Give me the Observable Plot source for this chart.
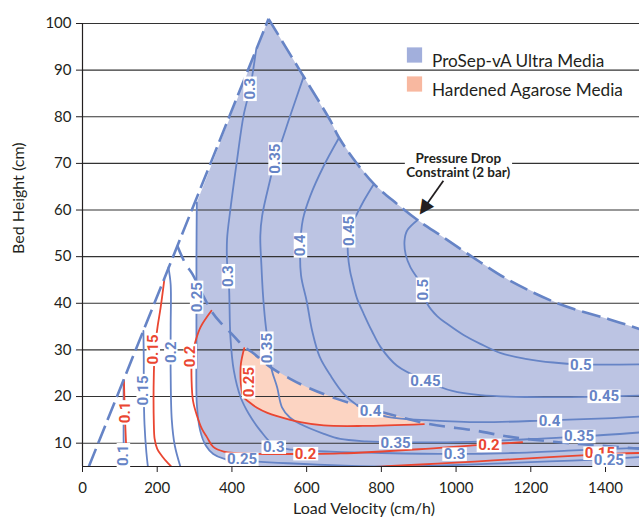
<!DOCTYPE html>
<html><head><meta charset="utf-8">
<script src="https://cdn.jsdelivr.net/npm/d3@7"></script>
<script src="https://cdn.jsdelivr.net/npm/@observablehq/plot@0.6"></script>
<style>body{margin:0;background:#fff;} svg{display:block}</style>
</head><body><div id="chart"></div>
<script>
// ---- axes ----
const xTicks = [0, 200, 400, 600, 800, 1000, 1200, 1400];
const yTicks = [10, 20, 30, 40, 50, 60, 70, 80, 90, 100];
const xTitle = "Load Velocity (cm/h)";
const yTitle = "Bed Height (cm)";
const legendItems = ["ProSep-vA Ultra Media", "Hardened Agarose Media"];

// ---- constraint lines (load velocity, bed height) ----
const residenceLine = [[17, 5], [498, 101]];
const pressureLine = [[498, 101], [583, 89.8], [664, 79.1], [686, 75.6], [726, 70.9], [780, 65.6], [842, 61.3], [896, 57.9], [967, 54.1], [1065, 48.8], [1141, 45], [1275, 39.9], [1409, 36.6], [1491, 34.5]];
const agaroseLine = [[254, 52.3], [276, 48.4], [294, 46.3], [325, 41.3], [347, 38.1], [369, 35.9], [400, 33.4], [433, 30.6], [454, 29.5], [503, 26.3], [556, 23.8], [601, 22], [681, 19.5], [800, 16.7], [923, 14.2], [1052, 12.7], [1141, 11.4], [1275, 10.2], [1380, 9.5], [1491, 8.8]];

// ---- operating regions ----
const prosepRegion = [[306, 61.6], [498, 101], [583, 89.8], [664, 79.1], [686, 75.6], [726, 70.9], [780, 65.6], [842, 61.3], [896, 57.9], [967, 54.1], [1065, 48.8], [1141, 45], [1275, 39.9], [1409, 36.6], [1491, 34.5], [1491, 5], [398, 5], [378, 6.6], [350, 7.7], [330, 9.5], [315, 12.7], [306, 18.4], [305, 30], [305, 40], [305, 50], [306, 61.6]];
const agaroseRegion = [[433, 30.4], [424, 27], [423, 24], [425, 22], [431, 19.9], [445, 18.9], [467, 17.6], [495, 16.5], [521, 15.8], [583, 14.5], [646, 13.8], [750, 13.7], [914, 14.1], [914, 14.4], [800, 16.7], [681, 19.5], [601, 22], [556, 23.8], [503, 26.3], [454, 29.5], [433, 30.6]];

// ---- ProSep-vA productivity contours ----
const blue010 = [[110, 23.3], [110, 17], [110, 11], [111, 7], [112, 5]];
const blue015 = [[163, 34.1], [164, 28], [164, 21.3], [166, 14], [171, 8], [175, 5]];
const blue020 = [[230, 47.7], [236, 44], [236, 35], [236, 25], [239, 15], [247, 9.5], [262, 5]];
const blue025 = [[306, 61.6], [305, 50], [305, 40], [305, 30], [306, 18.4], [315, 12.7], [330, 9.5], [350, 7.7], [378, 6.7], [427, 6.3], [550, 5.7], [700, 5.2], [850, 5.0], [950, 5.2], [1100, 5.6], [1250, 6.1], [1409, 6.6], [1491, 7.0]];
const blue030 = [[465, 94.5], [449, 86.3], [431, 80.2], [414, 70.9], [396, 60.2], [387, 53.8], [387, 48.8], [392, 44], [396, 32.7], [405, 25.6], [423, 19.9], [445, 16.3], [476, 12.7], [512, 9.6], [560, 8.6], [664, 8.2], [800, 7.9], [994, 7.7], [1150, 7.9], [1300, 8.4], [1491, 9.0]];
const blue035 = [[592, 88.6], [556, 80.2], [530, 74], [516, 70.9], [503, 66.7], [481, 58.8], [476, 54.5], [479, 48], [483, 42], [489, 36.3], [498, 30.6], [507, 25.6], [521, 22], [534, 17.7], [555, 15.5], [583, 14.1], [646, 12], [690, 10.9], [760, 10.4], [838, 10.2], [1040, 10.3], [1200, 10.9], [1329, 11.4], [1491, 12.3]];
const blue040 = [[686, 75.4], [646, 69.5], [610, 63.1], [590, 58], [583, 52.4], [585, 46], [600, 40.5], [615, 34], [635, 28.5], [664, 24.5], [700, 20.5], [736, 18.1], [771, 16.8], [820, 15.6], [931, 14.9], [1065, 14.5], [1250, 14.9], [1400, 15.3], [1491, 15.7]];
const blue045 = [[780, 65.6], [753, 62], [735, 59.2], [713, 55.6], [710, 51.3], [716, 47], [722, 44.9], [735, 41], [753, 37.7], [775, 34], [798, 30.6], [842, 26.6], [918, 23.4], [990, 21.2], [1065, 20.3], [1186, 19.9], [1396, 20], [1491, 20.2]];
const blue050 = [[898, 57.9], [869, 55.6], [862, 53.4], [865, 50.5], [878, 47.7], [911, 43.5], [923, 39.9], [950, 37.2], [976, 35.6], [1020, 33.2], [1065, 31.3], [1120, 29.3], [1186, 28.1], [1260, 27.3], [1334, 26.9], [1491, 26.9]];

// ---- Hardened agarose productivity contours ----
const red010 = [[111, 23.5], [113, 17], [116, 11], [119, 7], [123, 5]];
const red015 = [[219, 45], [209, 39], [201, 35], [194, 30.2], [191, 25], [191, 14], [193, 11], [200, 8.8], [213, 7.2], [230, 5.6], [240, 4.8]];
const red015b = [[780, 4.9], [815, 5.1], [950, 5.6], [1100, 6.3], [1250, 7.0], [1387, 7.6], [1491, 7.9]];
const red020 = [[345, 38.4], [316, 34.9], [303, 32], [293, 28.4], [292, 23.4], [296, 19], [306, 16], [320, 13], [333, 11.3], [350, 9.2], [378, 8.2], [467, 7.7], [592, 7.7], [690, 7.8], [900, 8.7], [1057, 9.6], [1177, 10.2]];
const red025 = [[433, 30.4], [424, 27], [423, 24], [425, 22], [431, 19.9], [445, 18.9], [467, 17.6], [495, 16.5], [521, 15.8], [583, 14.5], [646, 13.8], [750, 13.7], [914, 14.1]];

// ---- contour labels [x, y, text] ----
const blueLabelsV = [[449, 86, "0.3"], [516, 71, "0.35"], [584, 52.4, "0.4"], [713, 55.5, "0.45"], [911, 42.9, "0.5"], [391, 45.8, "0.3"], [306, 41.3, "0.25"], [494, 30.4, "0.35"], [237, 29.5, "0.2"], [163, 21.3, "0.15"], [110, 7.4, "0.1"]];
const redLabelsV = [[114, 16.6, "0.1"], [190, 30.1, "0.15"], [289, 28.6, "0.2"], [445, 23.1, "0.25"]];
const redLabelsH = [[597, 7.7, "0.2"], [1088, 9.5, "0.2"], [1385, 7.8, "0.15"]];
const blueLabelsH = [[427, 6.5, "0.25"], [512, 9.1, "0.3"], [771, 16.9, "0.4"], [918, 23.4, "0.45"], [838, 10.1, "0.35"], [996, 7.6, "0.3"], [1334, 26.8, "0.5"], [1396, 20, "0.45"], [1250, 14.8, "0.4"], [1329, 11.4, "0.35"], [1409, 6.3, "0.25"]];

// ---- annotation ----
const annotation = [{x: 1006, y: 69.6, text: "Pressure Drop\nConstraint (2 bar)"}];
const annotationArrow = [{x1: 966, y1: 66.3, x2: 914, y2: 60.4}];
const arrowHead = [{x: 912, y: 60.1}];

const BLUE_LINE = "#6684c6", RED_LINE = "#ea4631", BLUE_FILL = "#bcc4e3", PEACH = "#fcd4c2";
const LEG_BLUE = "#a2afdc", LEG_PEACH = "#f8b8a0";
const X = d => d[0], Y = d => d[1], T = d => d[2];

const contour = (data, stroke) => Plot.line(data, {x: X, y: Y, stroke, strokeWidth: 1.8, curve: "catmull-rom", clip: true});
const labelFont = {fontFamily: "Roboto, sans-serif", fontWeight: 700, fontSize: 15};

const chart = Plot.plot({
  width: 639, height: 523,
  marginLeft: 82, marginRight: 0, marginTop: 23, marginBottom: 57,
  x: {domain: [0, 1491], ticks: xTicks, tickFormat: d => String(d), tickSize: 6, tickPadding: 10, label: null},
  y: {domain: [5, 100], ticks: yTicks, tickFormat: d => String(d), tickSize: 6, tickPadding: 5, label: null},
  style: {fontFamily: "Lato, sans-serif", fontSize: "15px", color: "#231f20", background: "white", overflow: "visible"},
  marks: [
    Plot.line(prosepRegion, {x: X, y: Y, fill: BLUE_FILL, stroke: "none", curve: "linear"}),
    Plot.line(agaroseRegion, {x: X, y: Y, fill: PEACH, stroke: "none", curve: "linear"}),
    Plot.ruleY(yTicks, {stroke: "#333", strokeWidth: 1.1}),
    contour(blue010, BLUE_LINE), contour(blue015, BLUE_LINE), contour(blue020, BLUE_LINE),
    contour(blue025, BLUE_LINE), contour(blue030, BLUE_LINE), contour(blue035, BLUE_LINE),
    contour(blue040, BLUE_LINE), contour(blue045, BLUE_LINE), contour(blue050, BLUE_LINE),
    contour(red010, RED_LINE), contour(red015, RED_LINE), contour(red015b, RED_LINE),
    contour(red020, RED_LINE), contour(red025, RED_LINE),
    Plot.line(residenceLine, {x: X, y: Y, stroke: BLUE_LINE, strokeWidth: 2.6, strokeDasharray: "19,6", strokeLinecap: "butt"}),
    Plot.line(pressureLine, {x: X, y: Y, stroke: BLUE_LINE, strokeWidth: 2.6, strokeDasharray: "19,7", strokeLinecap: "butt", curve: "catmull-rom"}),
    Plot.line(agaroseLine, {x: X, y: Y, stroke: BLUE_LINE, strokeWidth: 2.6, strokeDasharray: "16,9", strokeLinecap: "butt", curve: "catmull-rom", clip: true}),
    Plot.ruleY([5], {stroke: "#231f20", strokeWidth: 1.2}),
    Plot.ruleX([0], {y1: 5, y2: 100, stroke: "#231f20", strokeWidth: 1.2}),
    // contour labels
    Plot.text(blueLabelsV, {x: X, y: Y, text: T, rotate: -90, fill: BLUE_LINE, ...labelFont, ariaDescription: "boxed"}),
    Plot.text(redLabelsV, {x: X, y: Y, text: T, rotate: -90, fill: RED_LINE, ...labelFont, ariaDescription: "boxed"}),
    Plot.text(redLabelsH, {x: X, y: Y, text: T, fill: RED_LINE, ...labelFont, ariaDescription: "boxed"}),
    Plot.text(blueLabelsH, {x: X, y: Y, text: T, fill: BLUE_LINE, ...labelFont, ariaDescription: "boxed"}),
    // annotation
    Plot.text(annotation, {x: "x", y: "y", text: "text", fontWeight: 700, fontSize: 13.5, lineHeight: 1.08, fill: "#231f20", ariaDescription: "boxedfull"}),
    Plot.link(annotationArrow, {x1: "x1", y1: "y1", x2: "x2", y2: "y2", stroke: "#231f20", strokeWidth: 1.8}),
    Plot.text(arrowHead, {x: "x", y: "y", text: () => "\u25B2", rotate: 215, fontSize: 19, fill: "#231f20", fontFamily: "DejaVu Sans"}),
    // legend
    Plot.dot([legendItems[0]], {frameAnchor: "top-left", dx: 332, dy: 31.5, symbol: "square", r: 8.6, fill: LEG_BLUE, stroke: "none"}),
    Plot.dot([legendItems[1]], {frameAnchor: "top-left", dx: 332, dy: 60.5, symbol: "square", r: 8.6, fill: LEG_PEACH, stroke: "none"}),
    Plot.text([legendItems[0]], {frameAnchor: "top-left", dx: 349.5, dy: 30.8, text: d => d, textAnchor: "start", fontSize: 17.2, fill: "#231f20"}),
    Plot.text([legendItems[1]], {frameAnchor: "top-left", dx: 349.5, dy: 60, text: d => d, textAnchor: "start", fontSize: 17.2, fill: "#231f20"}),
    // axis titles
    Plot.text([xTitle], {frameAnchor: "bottom", dx: 3, dy: 47, text: d => d, fontSize: 16, fill: "#231f20"}),
    Plot.text([yTitle], {frameAnchor: "left", dx: -64, dy: 9, rotate: -90, text: d => d, fontSize: 16, fill: "#231f20"})
  ]
});

document.getElementById("chart").append(chart);

// white boxes behind contour labels and the annotation
const NS = "http://www.w3.org/2000/svg";
function boxText(desc, tight) {
  chart.querySelectorAll("g").forEach(g => {
    if (g.getAttribute("aria-description") !== desc) return;
    g.querySelectorAll("text").forEach(t => {
      const b = t.getBBox();
      const fs = parseFloat(getComputedStyle(t).fontSize) || 15;
      const r = document.createElementNS(NS, "rect");
      let y = b.y, h = b.height;
      if (tight) { h = fs * 0.9; y = b.y + b.height / 2 - h / 2; }
      r.setAttribute("x", b.x - 1.5);
      r.setAttribute("y", y);
      r.setAttribute("width", b.width + 3);
      r.setAttribute("height", h);
      r.setAttribute("fill", "white");
      r.setAttribute("stroke", "none");
      const tr = t.getAttribute("transform");
      if (tr) r.setAttribute("transform", tr);
      t.parentNode.insertBefore(r, t);
    });
  });
}
boxText("boxed", true);
boxText("boxedfull", false);
</script>
</body></html>
